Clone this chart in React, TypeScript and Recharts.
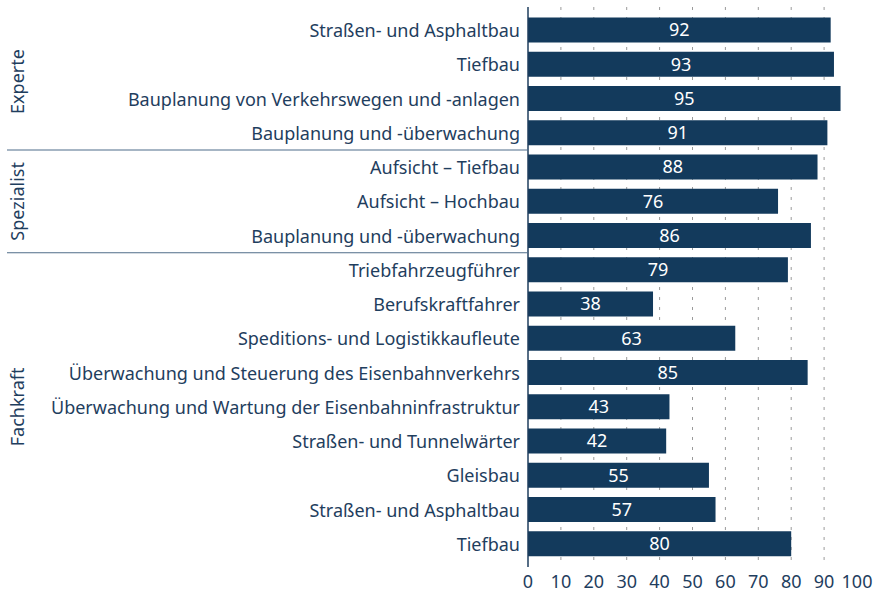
import React from "react";
import {
  BarChart,
  Bar,
  XAxis,
  YAxis,
  CartesianGrid,
  LabelList,
} from "recharts";

const categories = [
  "Straßen- und Asphaltbau",
  "Tiefbau",
  "Bauplanung von Verkehrswegen und -anlagen",
  "Bauplanung und -überwachung",
  "Aufsicht – Tiefbau",
  "Aufsicht – Hochbau",
  "Bauplanung und -überwachung",
  "Triebfahrzeugführer",
  "Berufskraftfahrer",
  "Speditions- und Logistikkaufleute",
  "Überwachung und Steuerung des Eisenbahnverkehrs",
  "Überwachung und Wartung der Eisenbahninfrastruktur",
  "Straßen- und Tunnelwärter",
  "Gleisbau",
  "Straßen- und Asphaltbau",
  "Tiefbau",
];
const values = [92, 93, 95, 91, 88, 76, 86, 79, 38, 63, 85, 43, 42, 55, 57, 80];
const groupNames = ["Experte", "Spezialist", "Fachkraft"];
const groupSizes = [4, 3, 9];
const xTicks = [0, 10, 20, 30, 40, 50, 60, 70, 80, 90, 100];
const gridValues = [10, 20, 30, 40, 50, 60, 70, 80, 90];

const data = categories.map((name, i) => ({ name, value: values[i] }));

const FONT = "'Noto Sans', sans-serif";
const SIZE = 18;
const TEXT = "#1f3e5e";
const BAR = "#133a5c";

// first index of each group
const groupStarts = groupSizes.map((_, g) =>
  groupSizes.slice(0, g).reduce((a, b) => a + b, 0)
);

const CategoryTick = (props: any) => {
  const { x, y, payload, index } = props;
  const half = payload?.offset ?? 17;
  const g = groupStarts.indexOf(index);
  const gy = g >= 0 ? y + (groupSizes[g] - 1) * half : 0;
  return (
    <g>
      <text
        x={x}
        y={y}
        textAnchor="end"
        dominantBaseline="central"
        fill={TEXT}
        fontSize={SIZE}
        fontFamily={FONT}
      >
        {payload.value}
      </text>
      {g > 0 && (
        <line
          x1={7}
          x2={x + 8}
          y1={y - half}
          y2={y - half}
          stroke="#4f6d89"
          strokeWidth={1.2}
        />
      )}
      {g >= 0 && (
        <text
          x={17}
          y={gy}
          textAnchor="middle"
          dominantBaseline="central"
          fill={TEXT}
          fontSize={SIZE}
          fontFamily={FONT}
          transform={`rotate(-90, 17, ${gy})`}
        >
          {groupNames[g]}
        </text>
      )}
    </g>
  );
};

export default function App() {
  return (
    <div style={{ position: "absolute", left: 0, top: 0 }}>
      <BarChart
        width={878}
        height={592}
        data={data}
        layout="vertical"
        margin={{ top: 7, right: 21, bottom: 0, left: 0 }}
        barCategoryGap="13%"
      >
        <CartesianGrid
          horizontal={false}
          vertical
          verticalValues={gridValues}
          stroke="#9a9a9a"
          strokeDasharray="3 7"
        />
        <XAxis
          type="number"
          domain={[0, 100]}
          ticks={xTicks}
          axisLine={false}
          tickLine={false}
          height={25}
          tick={{ fill: TEXT, fontSize: SIZE, fontFamily: FONT }}
          interval={0}
        />
        <YAxis
          type="category"
          dataKey="name"
          width={528}
          interval={0}
          tickLine={false}
          axisLine={{ stroke: TEXT, strokeWidth: 1.5 }}
          padding={{ top: 6, bottom: 6 }}
          tick={<CategoryTick />}
        />
        <Bar dataKey="value" fill={BAR} isAnimationActive={false}>
          <LabelList
            dataKey="value"
            position="center"
            fill="#ffffff"
            fontSize={SIZE}
            fontFamily={FONT}
          />
        </Bar>
      </BarChart>
    </div>
  );
}
